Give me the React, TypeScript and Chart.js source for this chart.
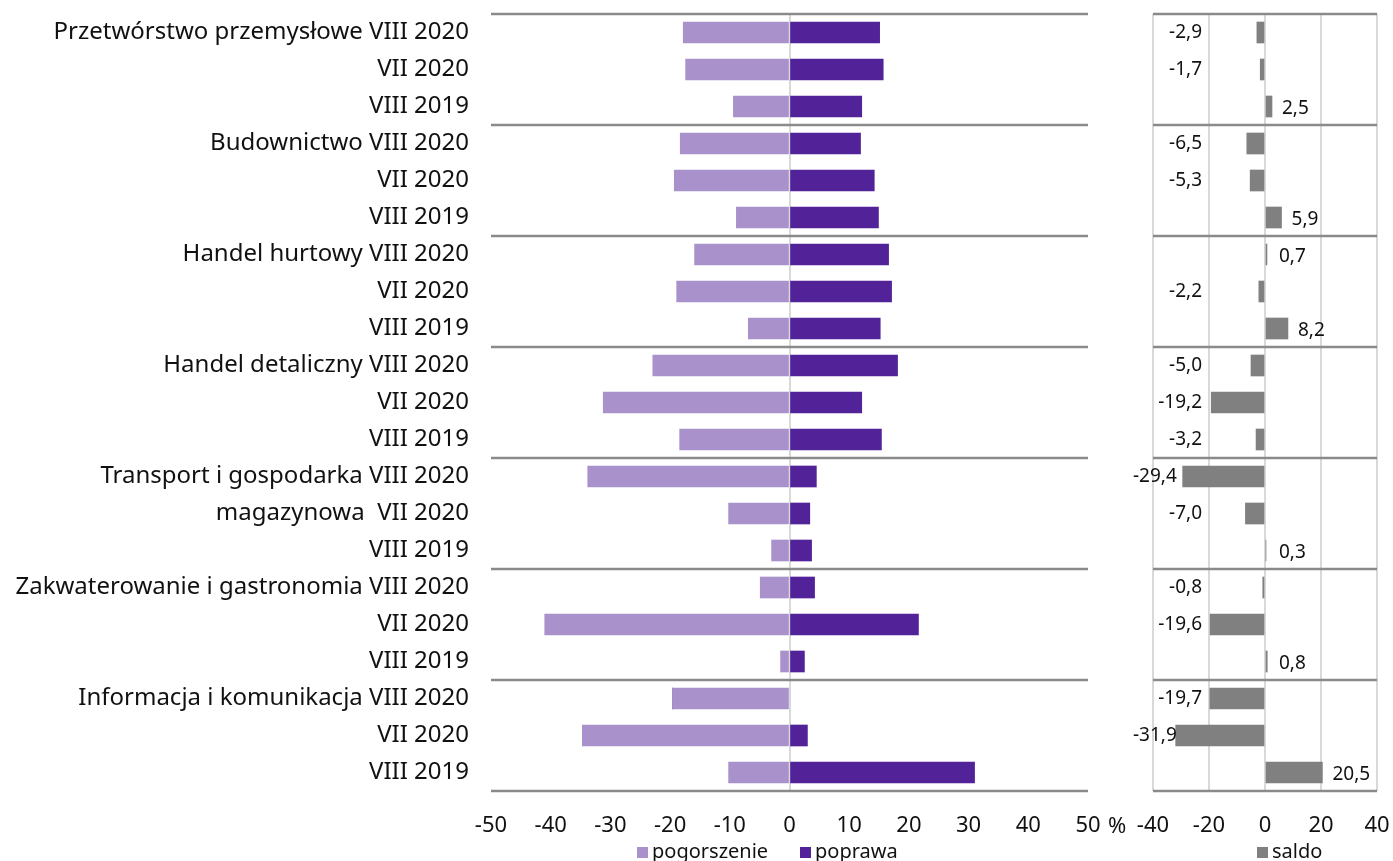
import React, { useEffect, useRef } from "react";
import { Chart, registerables } from "chart.js";

Chart.register(...registerables);

const categories: string[] = [
  "Przetwórstwo przemysłowe VIII 2020", "VII 2020", "VIII 2019",
  "Budownictwo VIII 2020", "VII 2020", "VIII 2019",
  "Handel hurtowy VIII 2020", "VII 2020", "VIII 2019",
  "Handel detaliczny VIII 2020", "VII 2020", "VIII 2019",
  "Transport i gospodarka VIII 2020", "magazynowa  VII 2020", "VIII 2019",
  "Zakwaterowanie i gastronomia VIII 2020", "VII 2020", "VIII 2019",
  "Informacja i komunikacja VIII 2020", "VII 2020", "VIII 2019",
];

const pogorszenie: number[] = [
  -17.8, -17.4, -9.4,
  -18.3, -19.3, -8.9,
  -15.9, -18.9, -6.9,
  -22.9, -31.2, -18.4,
  -33.8, -10.2, -3.0,
  -4.9, -41.0, -1.5,
  -19.6, -34.7, -10.2,
];

const poprawa: number[] = [
  15.1, 15.7, 12.1,
  11.9, 14.2, 14.9,
  16.6, 17.1, 15.2,
  18.1, 12.1, 15.4,
  4.5, 3.4, 3.7,
  4.2, 21.6, 2.5,
  0, 3.0, 31.0,
];

const saldo: number[] = [
  -2.9, -1.7, 2.5,
  -6.5, -5.3, 5.9,
  0.7, -2.2, 8.2,
  -5.0, -19.2, -3.2,
  -29.4, -7.0, 0.3,
  -0.8, -19.6, 0.8,
  -19.7, -31.9, 20.5,
];

const leftTicks: number[] = [-50, -40, -30, -20, -10, 0, 10, 20, 30, 40, 50];
const rightTicks: number[] = [-40, -20, 0, 20, 40];
const groupSize = 3;

const FONT = "'Noto Sans', 'Open Sans', sans-serif";
const TEXT_COLOR = "#111111";

const CHART_TOP = 14;
const CHART_BOTTOM = 791;
const H = 861;

const separatorPlugin = {
  id: "separators",
  afterDraw(chart: any) {
    const { ctx, chartArea } = chart;
    const n = categories.length;
    const step = (chartArea.bottom - chartArea.top) / n;
    ctx.save();
    ctx.strokeStyle = "#8a8a8a";
    ctx.lineWidth = 2.5;
    for (let i = 0; i <= n; i += groupSize) {
      const y = Math.round(chartArea.top + i * step);
      ctx.beginPath();
      ctx.moveTo(chartArea.left, y);
      ctx.lineTo(chartArea.right, y);
      ctx.stroke();
    }
    ctx.restore();
  },
};

const percentPlugin = {
  id: "percent",
  afterDraw(chart: any) {
    const { ctx, chartArea } = chart;
    ctx.save();
    ctx.font = `22px ${FONT}`;
    ctx.fillStyle = TEXT_COLOR;
    ctx.textAlign = "left";
    ctx.textBaseline = "middle";
    ctx.fillText("%", chartArea.right + 20, 827);
    ctx.restore();
  },
};

const saldoLabelPlugin = {
  id: "saldoLabels",
  afterDatasetsDraw(chart: any) {
    const { ctx } = chart;
    const meta = chart.getDatasetMeta(0);
    const x = chart.scales.x;
    ctx.save();
    ctx.font = `19px ${FONT}`;
    ctx.fillStyle = TEXT_COLOR;
    ctx.textBaseline = "middle";
    meta.data.forEach((bar: any, i: number) => {
      const v = saldo[i];
      const txt = v.toFixed(1).replace(".", ",");
      if (v < 0) {
        ctx.textAlign = "right";
        const w = ctx.measureText(txt).width;
        let px = Math.min(x.getPixelForValue(-22.5), bar.x - 6);
        px = Math.max(px, x.left - 20 + w);
        ctx.fillText(txt, px, bar.y);
      } else {
        ctx.textAlign = "left";
        const px = Math.max(x.getPixelForValue(5), bar.x + 10);
        ctx.fillText(txt, px, bar.y + 2);
      }
    });
    ctx.restore();
  },
};

function zeroPadX(s: any) {
  s.height = H - CHART_BOTTOM;
  s.paddingLeft = 0;
  s.paddingRight = 0;
}

function LeftChart() {
  const ref = useRef<HTMLCanvasElement>(null);
  useEffect(() => {
    const chart = new Chart(ref.current!, {
      type: "bar",
      data: {
        labels: categories,
        datasets: [
          { label: "pogorszenie", data: pogorszenie, backgroundColor: "#A992CB", barThickness: 21 },
          { label: "poprawa", data: poprawa, backgroundColor: "#522398", barThickness: 21 },
        ],
      },
      options: {
        indexAxis: "y",
        animation: false,
        responsive: false,
        maintainAspectRatio: false,
        layout: { padding: { top: CHART_TOP, right: 42, left: 0, bottom: 0 } },
        plugins: { legend: { display: false }, tooltip: { enabled: false } },
        scales: {
          x: {
            stacked: true,
            min: -50,
            max: 50,
            afterBuildTicks: (s: any) => { s.ticks = leftTicks.map((v) => ({ value: v })); },
            afterFit: zeroPadX,
            ticks: { font: { family: FONT, size: 22 }, color: TEXT_COLOR, padding: 22, maxRotation: 0 },
            grid: {
              drawTicks: false,
              lineWidth: 2,
              color: (c: any) => (c.tick && c.tick.value === 0 ? "#d9d9d9" : "rgba(0,0,0,0)"),
            },
            border: { display: false },
          },
          y: {
            stacked: true,
            afterFit: (s: any) => { s.width = 491; s.paddingTop = 0; s.paddingBottom = 0; },
            ticks: { font: { family: FONT, size: 24 }, color: TEXT_COLOR, padding: 14, autoSkip: false },
            grid: { display: false },
            border: { display: false },
          },
        },
      } as any,
      plugins: [separatorPlugin, percentPlugin],
    });
    return () => chart.destroy();
  }, []);
  return <canvas ref={ref} width={1130} height={H} style={{ position: "absolute", left: 0, top: 0 }} />;
}

function RightChart() {
  const ref = useRef<HTMLCanvasElement>(null);
  useEffect(() => {
    const chart = new Chart(ref.current!, {
      type: "bar",
      data: {
        labels: categories,
        datasets: [
          { label: "saldo", data: saldo, backgroundColor: "#808080", barThickness: 21 },
        ],
      },
      options: {
        indexAxis: "y",
        animation: false,
        responsive: false,
        maintainAspectRatio: false,
        layout: { padding: { top: CHART_TOP, right: 16, left: 43, bottom: 0 } },
        plugins: { legend: { display: false }, tooltip: { enabled: false } },
        scales: {
          x: {
            min: -40,
            max: 40,
            afterBuildTicks: (s: any) => { s.ticks = rightTicks.map((v) => ({ value: v })); },
            afterFit: zeroPadX,
            ticks: { font: { family: FONT, size: 22 }, color: TEXT_COLOR, padding: 22, maxRotation: 0 },
            grid: { drawTicks: false, lineWidth: 2, color: "#d9d9d9" },
            border: { display: false },
          },
          y: {
            display: false,
            afterFit: (s: any) => { s.width = 0; s.paddingTop = 0; s.paddingBottom = 0; },
          },
        },
      } as any,
      plugins: [separatorPlugin, saldoLabelPlugin],
    });
    return () => chart.destroy();
  }, []);
  return <canvas ref={ref} width={283} height={H} style={{ position: "absolute", left: 1110, top: 0 }} />;
}

function LegendItem({ x, color, text }: { x: number; color: string; text: string }) {
  return (
    <div style={{ position: "absolute", left: x, top: 838, height: 24, display: "flex", alignItems: "center", fontFamily: FONT, fontSize: 20, color: TEXT_COLOR, whiteSpace: "nowrap" }}>
      <span style={{ display: "inline-block", width: 11, height: 11, background: color, marginRight: 4, marginTop: 4 }} />
      <span>{text}</span>
    </div>
  );
}

export default function App() {
  return (
    <div style={{ position: "absolute", left: 0, top: 0, width: 1393, height: H, overflow: "hidden", background: "#fff" }}>
      <LeftChart />
      <RightChart />
      <LegendItem x={637} color="#A992CB" text="pogorszenie" />
      <LegendItem x={800} color="#522398" text="poprawa" />
      <LegendItem x={1257} color="#808080" text="saldo" />
    </div>
  );
}
